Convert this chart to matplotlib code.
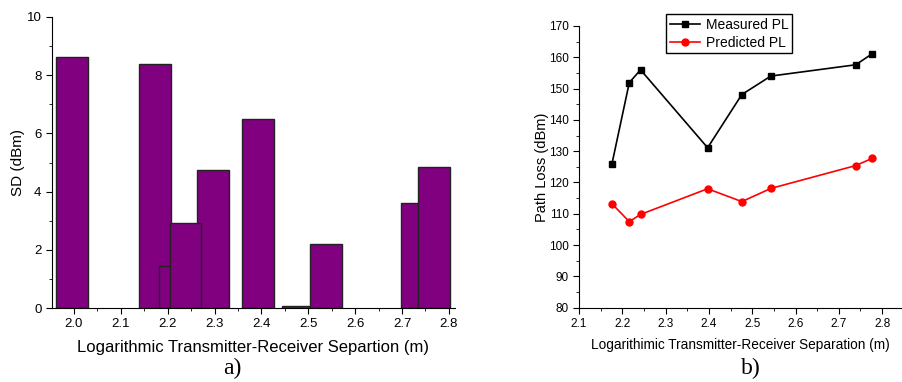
import matplotlib
matplotlib.use('Agg')
import matplotlib.pyplot as plt
from matplotlib.ticker import MultipleLocator

plt.rcParams['font.family'] = ['Liberation Sans', 'DejaVu Sans']

# a) standard deviation bars
sd_x = [1.996, 2.172, 2.215, 2.296, 2.238, 2.392, 2.477, 2.537, 2.732, 2.769]
sd_y = [8.63, 8.40, 1.43, 4.73, 2.93, 6.50, 0.08, 2.20, 3.60, 4.83]
bar_w = 0.068

# b) path loss
dist = [2.176, 2.216, 2.242, 2.397, 2.476, 2.543, 2.739, 2.777]
measured = [126.0, 151.9, 156.0, 131.1, 148.1, 154.0, 157.6, 161.1]
predicted = [113.2, 107.5, 109.8, 118.0, 113.9, 118.1, 125.4, 127.7]

fig = plt.figure(figsize=(9.02, 3.82), dpi=100)

ax1 = fig.add_axes([0.0576, 0.1937, 0.4468, 0.7618])
ax1.bar(sd_x, sd_y, width=bar_w, color='#800080', edgecolor='#222222', linewidth=1)
ax1.set_xlim(1.953, 2.813)
ax1.set_ylim(0, 10)
ax1.xaxis.set_major_locator(MultipleLocator(0.1))
ax1.xaxis.set_minor_locator(MultipleLocator(0.05))
ax1.yaxis.set_major_locator(MultipleLocator(2))
ax1.yaxis.set_minor_locator(MultipleLocator(1))
ax1.xaxis.set_major_formatter(matplotlib.ticker.FormatStrFormatter('%.1f'))
ax1.tick_params(which='both', labelsize=9.5)
ax1.set_xlabel('Logarithmic Transmitter-Receiver Separtion (m)', fontsize=12, labelpad=7)
ax1.set_ylabel('SD (dBm)', fontsize=11, labelpad=1)

ax2 = fig.add_axes([0.642, 0.1945, 0.3575, 0.7375])
ax2.plot(dist, measured, color='black', marker='s', markersize=5, linewidth=1.2, label='Measured PL')
ax2.plot(dist, predicted, color='red', marker='o', markersize=5, linewidth=1.2, label='Predicted PL')
ax2.set_xlim(2.1, 2.845)
ax2.set_ylim(80, 170)
ax2.xaxis.set_major_locator(MultipleLocator(0.1))
ax2.xaxis.set_minor_locator(MultipleLocator(0.05))
ax2.yaxis.set_major_locator(MultipleLocator(10))
ax2.yaxis.set_minor_locator(MultipleLocator(5))
ax2.xaxis.set_major_formatter(matplotlib.ticker.FormatStrFormatter('%.1f'))
ax2.tick_params(which='both', labelsize=8.5)
ax2.set_xlabel('Logarithimic Transmitter-Receiver Separation (m)', fontsize=9.8, labelpad=6)
ax2.set_ylabel('Path Loss (dBm)', fontsize=10.5, labelpad=0)
leg = ax2.legend(loc='upper center', bbox_to_anchor=(0.466, 1.067), fontsize=10,
                 frameon=True, fancybox=False, edgecolor='black', framealpha=1,
                 handlelength=2.2, borderpad=0.25, labelspacing=0.3, handletextpad=0.4)
leg.get_frame().set_linewidth(1)

for ax in (ax1, ax2):
    ax.spines['top'].set_visible(False)
    ax.spines['right'].set_visible(False)
    ax.tick_params(which='both', direction='out', color='black')
    ax.tick_params(which='major', length=4)
    ax.tick_params(which='minor', length=2.5)

fig.text(0.258, 0.02, 'a)', fontsize=17, family='Liberation Serif', ha='center')
fig.text(0.832, 0.02, 'b)', fontsize=17, family='Liberation Serif', ha='center')

fig.savefig('out.png', dpi=100)
